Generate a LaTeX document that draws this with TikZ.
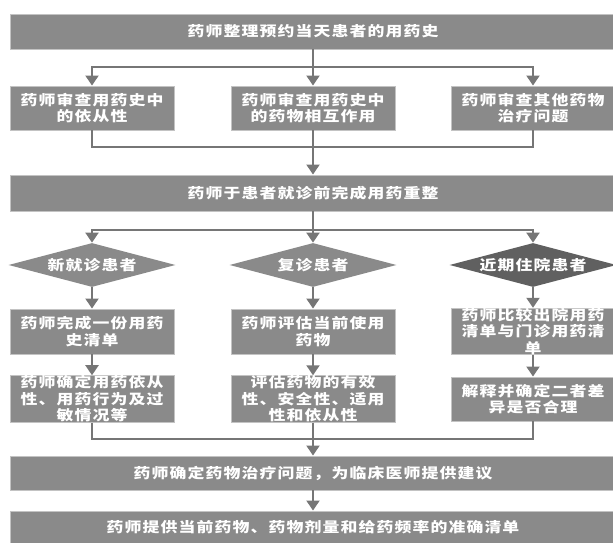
\documentclass[tikz,border=0pt]{standalone}
\usepackage{fontspec}
\usepackage{tikz}
\usepackage{xcolor}
\usetikzlibrary{arrows.meta,calc,positioning,shapes.geometric}
\newfontfamily\cjk[FakeStretch=1.2,LetterSpace=8]{Noto Sans CJK SC}
\definecolor{boxgray}{RGB}{138,138,138}
\definecolor{darkdia}{RGB}{96,96,96}
\definecolor{linegray}{RGB}{118,118,118}
\definecolor{boxedge}{RGB}{195,195,195}

\begin{document}
\begin{tikzpicture}[
  box/.style={draw=boxedge,line width=0.5pt,fill=boxgray,text=white,
    font=\cjk\bfseries\fontsize{8}{9.4}\selectfont,align=center,inner sep=0pt,
    minimum width=3.28cm,minimum height=0.88cm},
  widebox/.style={box,minimum width=12.12cm,minimum height=0.70cm},
  pick/.style={diamond,aspect=3.8,fill=boxgray,text=white,inner sep=0pt,
    font=\cjk\bfseries\fontsize{8}{9.4}\selectfont,
    minimum width=3.34cm,minimum height=0.88cm},
  link/.style={linegray,line width=1.1pt},
  arr/.style={link,-{Triangle[width=0.26cm,length=0.2cm]}}]
  \useasboundingbox (0,0) rectangle (12.26,10.86);

  % 第一行
  \node[widebox] (T) at (6.26,10.23) {药师整理预约当天患者的用药史};

  % 审查
  \node[box] (A1) at (1.84,8.70) {药师审查用药史中\\的依从性};
  \node[box] (A2) at (6.26,8.70) {药师审查用药史中\\的药物相互作用};
  \node[box] (A3) at (10.66,8.70) {药师审查其他药物\\治疗问题};

  % 用药重整
  \node[widebox,minimum height=0.72cm] (C) at (6.26,7.00) {药师于患者就诊前完成用药重整};

  % 患者类型
  \node[pick] (D1) at (1.84,5.56) {新就诊患者};
  \node[pick] (D2) at (6.26,5.56) {复诊患者};
  \node[pick,fill=darkdia] (D3) at (10.66,5.56) {近期住院患者};

  \node[box,minimum height=0.90cm] (E1) at (1.84,4.23) {药师完成一份用药\\史清单};
  \node[box,minimum height=0.90cm] (E2) at (6.26,4.23) {药师评估当前使用\\药物};
  \node[box,minimum height=0.90cm] (E3) at (10.66,4.23) {药师比较出院用药\\清单与门诊用药清\\单};

  \node[box] (F1) at (1.84,2.88) {药师确定用药依从\\性、用药行为及过\\敏情况等};
  \node[box] (F2) at (6.26,2.88) {评估药物的有效\\性、安全性、适用\\性和依从性};
  \node[box] (F3) at (10.66,2.88) {解释并确定二者差\\异是否合理};

  % 底部
  \node[widebox,minimum height=0.68cm] (G) at (6.26,1.40) {药师确定药物治疗问题，为临床医师提供建议};
  \node[widebox,minimum height=0.64cm] (H) at (6.26,0.32) {药师提供当前药物、药物剂量和给药频率的准确清单};

  % 分支与汇合点
  \coordinate (s1) at (6.26,9.52);
  \coordinate (j1) at (6.26,7.92);
  \coordinate (s2) at (6.26,6.26);
  \coordinate (j2) at (6.26,2.08);

  \draw[arr] (T) -- (A2);
  \draw[arr] (s1) -| (A1);
  \draw[arr] (s1) -| (A3);
  \draw[link] (A1) |- (j1) -| (A3);
  \draw[arr] (A2) -- (C);

  \draw[arr] (C) -- (D2);
  \draw[arr] (s2) -| (D1);
  \draw[arr] (s2) -| (D3);

  \draw[arr] (D1) -- (E1);
  \draw[arr] (D2) -- (E2);
  \draw[arr] (D3) -- (E3);
  \draw[arr] (E1) -- (F1);
  \draw[arr] (E2) -- (F2);
  \draw[arr] (E3) -- (F3);

  \draw[link] (F1) |- (j2) -| (F3);
  \draw[arr] (F2) -- (G);
  \draw[arr] (G) -- (H);
\end{tikzpicture}
\end{document}
